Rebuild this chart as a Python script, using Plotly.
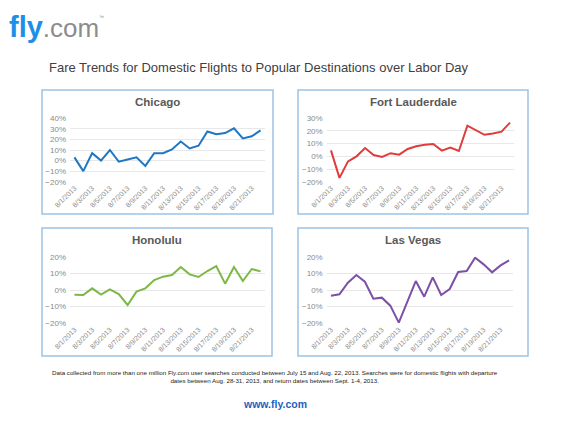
import plotly.graph_objects as go

W, H = 570, 427

dates = [f"8/{d}/2013" for d in range(1, 23)]
tick_dates = dates[::2]

chicago = [3, -10, 7, 0, 10, -1, 1, 3, -5, 7, 7, 10.5, 18, 11.5, 14, 27.5, 25, 26, 30.5, 21, 23, 28.5]
fort_lauderdale = [4.7, -17, -4, 0, 6.5, 1, -0.5, 2.5, 1.3, 5.8, 8, 9.2, 9.7, 4.5, 7, 4.2, 24.2, 20.3, 17, 18, 19.5, 26.6]
honolulu = [-2.8, -3, 1, -2.8, 0.4, -2.4, -9, -1, 1, 6, 8, 9, 13.8, 9.4, 7.8, 11.4, 14.4, 3.8, 13.8, 5.4, 12.6, 11.2]
las_vegas = [-3.4, -2.6, 4.4, 9, 5, -5.2, -4.6, -9.4, -19.6, -7, 5.4, -4, 7.6, -3, 0.6, 10.8, 11.4, 19.4, 15.4, 10.6, 14.8, 17.8]

cities = ["Chicago", "Fort Lauderdale", "Honolulu", "Las Vegas"]
series = [chicago, fort_lauderdale, honolulu, las_vegas]
colors = ["#1F77C4", "#E03C3C", "#7DB846", "#7D4FA6"]
y_ranges = [(-20, 40), (-20, 30), (-20, 20), (-20, 20)]

# pixel geometry: (border x0, y0, x1, y1), (plot x0, x1, y0(top), y1(bottom)), title y
panels = [
    ((42, 90, 273, 214), (70, 265, 118.3, 181.7), 102),
    ((298, 90, 528, 214), (326.7, 514.3, 118.3, 181.7), 102),
    ((42, 228, 272, 356), (70, 265, 256.7, 323.3), 240),
    ((298, 228, 528, 356), (326.7, 513.3, 256.7, 323.3), 240),
]

FONT = "Liberation Sans, Arial, sans-serif"

def px(x):
    return x / W

def py(y):
    return 1 - y / H

fig = go.Figure()
shapes = []
annotations = []
layout_axes = {}

for i, (city, vals, col, yr, pan) in enumerate(zip(cities, series, colors, y_ranges, panels)):
    n = i + 1
    xa = "x" if n == 1 else f"x{n}"
    ya = "y" if n == 1 else f"y{n}"
    fig.add_trace(go.Scatter(x=dates, y=vals, mode="lines", xaxis=xa, yaxis=ya,
                             line=dict(color=col, width=2), showlegend=False,
                             hoverinfo="x+y"))
    (bx0, by0, bx1, by1), (pX0, pX1, pY0, pY1), ty = pan
    layout_axes["xaxis" if n == 1 else f"xaxis{n}"] = dict(
        domain=[px(pX0), px(pX1)], anchor=ya, type="category",
        range=[-0.5, len(dates) - 0.5], tickmode="array",
        tickvals=tick_dates, ticktext=tick_dates, tickangle=-45,
        tickfont=dict(family=FONT, size=7, color="#8a8a8a"),
        showgrid=False, zeroline=False, showline=False, ticks="",
        automargin=False,
    )
    layout_axes["yaxis" if n == 1 else f"yaxis{n}"] = dict(
        domain=[py(pY1), py(pY0)], anchor=xa, range=list(yr), dtick=10,
        ticksuffix="%", showgrid=True, gridcolor="#E8E8E8", gridwidth=1,
        zeroline=False, showline=False, ticks="", ticklabelstandoff=3,
        tickfont=dict(family=FONT, size=8, color="#8a8a8a"), automargin=False,
    )
    shapes.append(dict(type="rect", xref="paper", yref="paper",
                       x0=px(bx0), x1=px(bx1), y0=py(by1), y1=py(by0),
                       line=dict(color="#9DC3E6", width=1.5), layer="below"))
    annotations.append(dict(text=f"<b>{city}</b>", xref="paper", yref="paper",
                            x=px((bx0 + bx1) / 2), y=py(ty), showarrow=False,
                            xanchor="center", yanchor="middle",
                            font=dict(family=FONT, size=11.5, color="#595959")))

# Logo
annotations.append(dict(text="<b>fly</b><span style='color:#8C8C8C;font-size:26px'>.com</span>",
                        xref="paper", yref="paper", x=px(7), y=py(27),
                        xanchor="left", yanchor="middle", showarrow=False,
                        font=dict(family=FONT, size=29, color="#1E8FE8")))
annotations.append(dict(text="™", xref="paper", yref="paper", x=px(97), y=py(17),
                        xanchor="left", yanchor="middle", showarrow=False,
                        font=dict(family=FONT, size=5, color="#8C8C8C")))

# Title
annotations.append(dict(text="Fare Trends for Domestic Flights to Popular Destinations over Labor Day",
                        xref="paper", yref="paper", x=px(258.5), y=py(68), showarrow=False,
                        xanchor="center", yanchor="middle",
                        font=dict(family=FONT, size=13, color="#404040")))

# Footnote
annotations.append(dict(text="Data collected from more than one million Fly.com user searches conducted between July 15 and Aug. 22, 2013. Searches were for domestic flights with departure<br>dates between Aug. 28-31, 2013, and return dates between Sept. 1-4, 2013.",
                        xref="paper", yref="paper", x=px(274.5), y=py(376), showarrow=False,
                        xanchor="center", yanchor="middle", align="center",
                        font=dict(family=FONT, size=6.2, color="#222222")))

annotations.append(dict(text="<b>www.fly.com</b>", xref="paper", yref="paper", x=px(274.5), y=py(403.5),
                        showarrow=False, xanchor="center", yanchor="middle",
                        font=dict(family=FONT, size=10.5, color="#1F5FBF")))

fig.update_layout(width=W, height=H, margin=dict(l=0, r=0, t=0, b=0, autoexpand=False),
                  autosize=False,
                  paper_bgcolor="white", plot_bgcolor="white",
                  shapes=shapes, annotations=annotations, **layout_axes)

fig.write_html("out.html", include_plotlyjs=True,
               config={"displayModeBar": False, "responsive": False},
               post_script="document.body.style.margin='0';document.body.style.overflow='hidden';")
